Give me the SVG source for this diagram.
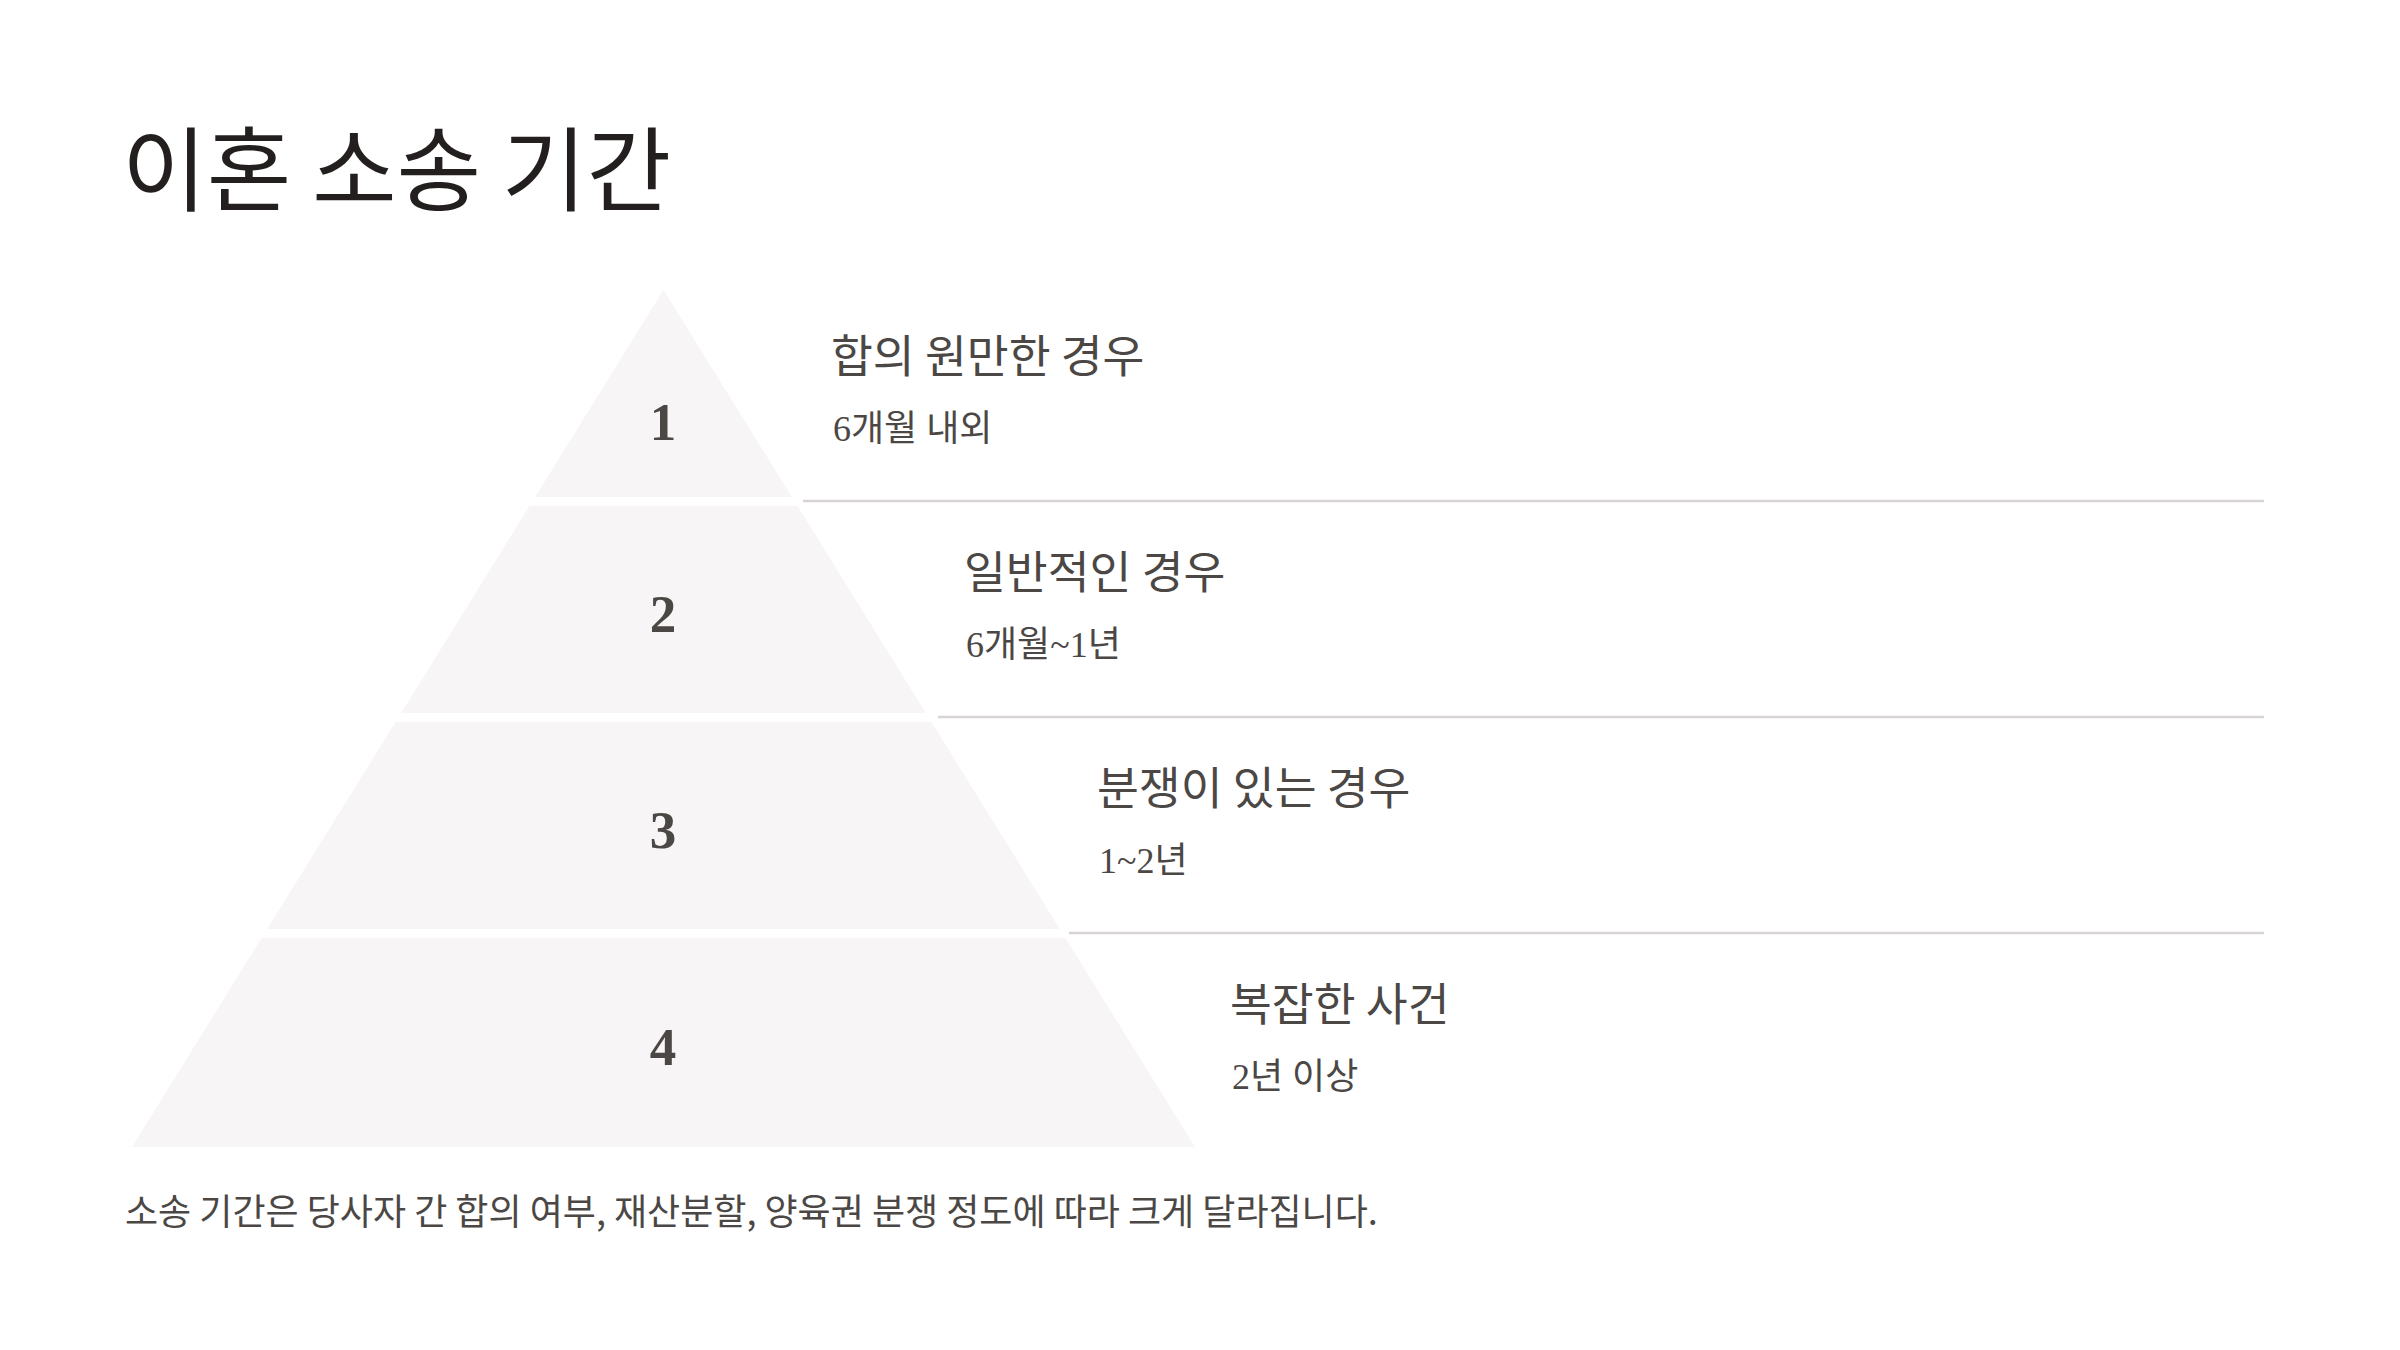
<svg xmlns="http://www.w3.org/2000/svg" width="2400" height="1350" viewBox="0 0 2400 1350">
  <style>
    .bg { fill: #ffffff; }
    .lvl { fill: #f7f5f5; }
    .sep { stroke: #d9d4d4; stroke-width: 2.5; fill: none; }
    .title { font-family: "Noto Sans CJK KR", "Noto Sans", sans-serif; font-size: 92px; fill: #231f1e; }
    .num { font-family: "Liberation Serif", "Noto Sans CJK KR", serif; font-size: 53px; font-weight: 700; fill: #4b4745; text-anchor: middle; }
    .head { font-family: "Noto Sans CJK KR", "Noto Sans", sans-serif; font-size: 45.5px; fill: #4b4745; }
    .sub { font-family: "Liberation Serif", "Noto Sans CJK KR", serif; font-size: 36px; fill: #4b4745; }
    .foot { font-family: "Noto Sans CJK KR", "Noto Sans", sans-serif; font-size: 36px; fill: #4b4745; }
  </style>
  <rect class="bg" x="0" y="0" width="2400" height="1350"/>

  <text id="title" class="title" x="122" y="204">이혼 소송 기간</text>

  <g id="connectors">
    <line class="sep" x1="803" y1="501" x2="2264" y2="501"/>
    <line class="sep" x1="938" y1="717" x2="2264" y2="717"/>
    <line class="sep" x1="1069" y1="933" x2="2264" y2="933"/>
  </g>

  <g id="level1">
    <polygon class="lvl" points="663.5,290 791.9,497 535.1,497"/>
    <text class="num" x="663" y="440">1</text>
    <text class="head" x="831" y="373">합의 원만한 경우</text>
    <text class="sub" x="833" y="441">6개월 내외</text>
  </g>

  <g id="level2">
    <polygon class="lvl" points="529.5,506 797.5,506 925.8,713 401.2,713"/>
    <text class="num" x="663" y="632">2</text>
    <text class="head" x="964" y="589">일반적인 경우</text>
    <text class="sub" x="966" y="657">6개월~1년</text>
  </g>

  <g id="level3">
    <polygon class="lvl" points="395.6,722 931.4,722 1059.8,929 267.2,929"/>
    <text class="num" x="663" y="848">3</text>
    <text class="head" x="1097" y="805">분쟁이 있는 경우</text>
    <text class="sub" x="1099" y="873">1~2년</text>
  </g>

  <g id="level4">
    <polygon class="lvl" points="261.6,938 1065.4,938 1195,1147 132,1147"/>
    <text class="num" x="663" y="1065">4</text>
    <text class="head" x="1230" y="1021">복잡한 사건</text>
    <text class="sub" x="1232" y="1089">2년 이상</text>
  </g>

  <text id="footer" class="foot" x="125" y="1225">소송 기간은 당사자 간 합의 여부, 재산분할, 양육권 분쟁 정도에 따라 크게 달라집니다.</text>
</svg>
